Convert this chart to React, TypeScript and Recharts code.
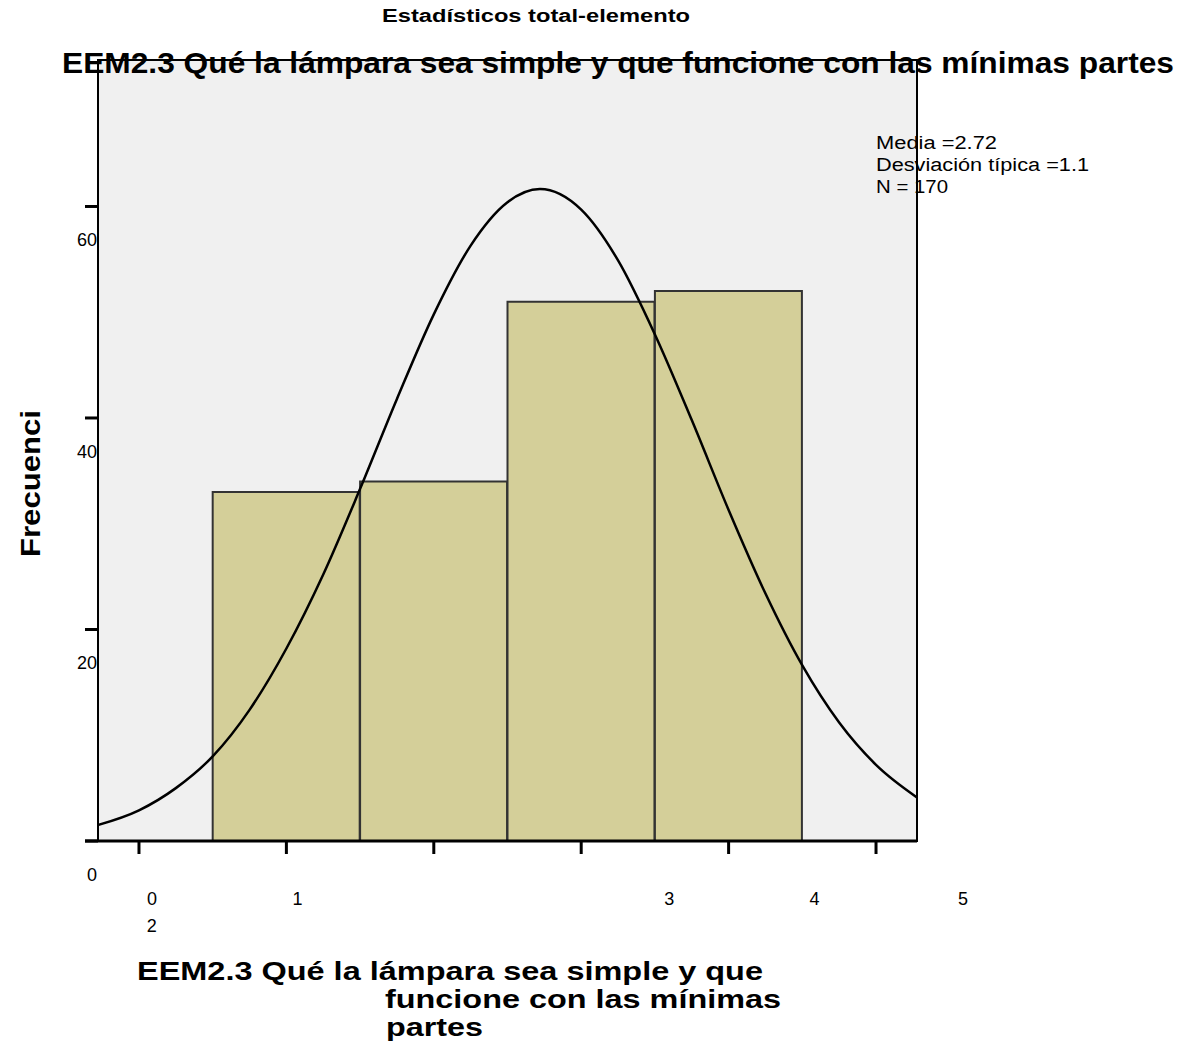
import React from "react";
import {
  ComposedChart,
  Bar,
  Line,
  XAxis,
  YAxis,
  CartesianGrid,
  ReferenceArea,
} from "recharts";

// histogram bins (category value) and their frequencies
const binValues = [1, 2, 3, 4];
const binCounts = [33, 34, 51, 52];

// fitted normal curve
const curveX = [-0.28, 0, 0.25, 0.5, 0.75, 1, 1.25, 1.5, 1.75, 2, 2.25, 2.5, 2.72, 3, 3.25, 3.5, 3.75, 4, 4.25, 4.5, 4.75, 5, 5.28];
const curveY = [1.5, 2.9, 5.0, 8.0, 12.4, 18.2, 25.2, 33.3, 41.8, 49.8, 56.3, 60.4, 61.65, 59.7, 54.9, 47.9, 39.8, 31.3, 23.4, 16.6, 11.2, 7.2, 4.1];

const xTicks = [0, 1, 2, 3, 4, 5];
const yTicks = [0, 20, 40, 60];

const legendLines = ["Media =2.72", "Desviación típica =1.1", "N = 170"];
const xTitleLines = ["EEM2.3 Qué la lámpara sea simple y que", "funcione con las mínimas", "partes"];

const W = 1183;
const H = 1047;
const sans = "'Liberation Sans', Arial, sans-serif";
const xDomain: [number, number] = [-0.278, 5.278];

const barData = binValues.map((v, i) => ({ x: v, count: binCounts[i] }));
const curveData = curveX.map((x, i) => ({ x, curve: curveY[i] }));

// the original export scattered the x labels; keep them where they landed
const xLabelShift: Record<number, [number, number]> = {
  0: [13, 58],
  1: [11, 58],
  2: [-282, 85],
  3: [88, 58],
  4: [86, 58],
  5: [87, 58],
};

const XTick = (props: any) => {
  const { payload } = props;
  const cx = payload.coordinate;
  const [dx, dy] = xLabelShift[payload.value] || [0, 58];
  return (
    <text x={cx + dx} y={841 + dy + 6} textAnchor="middle" fontSize={18} fontFamily={sans} fill="#000">
      {payload.value}
    </text>
  );
};

const YTick = (props: any) => {
  const { payload, y } = props;
  return (
    <text x={97} y={y + 34 + 6} textAnchor="end" fontSize={18} fontFamily={sans} fill="#000">
      {payload.value}
    </text>
  );
};

const App = () => {
  return (
    <div style={{ position: "absolute", left: 0, top: 0, width: W, height: H, background: "#fff" }}>
      <ComposedChart
        width={W}
        height={H}
        data={barData}
        margin={{ top: 60, right: 266, left: 58, bottom: 176 }}
        barCategoryGap={0}
        barGap={0}
      >
        <CartesianGrid fill="#f0f0f0" horizontal={false} vertical={false} />
        <XAxis
          dataKey="x"
          type="number"
          domain={xDomain}
          ticks={xTicks}
          allowDataOverflow
          height={30}
          axisLine={false}
          tickLine={{ stroke: "#000", strokeWidth: 3 }}
          tickSize={13}
          tick={<XTick />}
          interval={0}
        />
        <XAxis
          xAxisId="curve"
          dataKey="x"
          type="number"
          domain={xDomain}
          allowDataOverflow
          hide
        />
        <YAxis
          type="number"
          domain={[0, 73.85]}
          ticks={yTicks}
          allowDataOverflow
          width={40}
          axisLine={false}
          tickLine={{ stroke: "#000", strokeWidth: 3 }}
          tickSize={13}
          tick={<YTick />}
          interval={0}
        />
        <Bar
          dataKey="count"
          fill="#d4cf99"
          stroke="#333"
          strokeWidth={2}
          isAnimationActive={false}
        />
        <ReferenceArea
          x1={xDomain[0]}
          x2={xDomain[1]}
          y1={0}
          y2={73.85}
          fill="none"
          stroke="#000"
          strokeWidth={2}
          ifOverflow="visible"
        />
        <Line
          xAxisId="curve"
          data={curveData}
          dataKey="curve"
          type="monotone"
          stroke="#000"
          strokeWidth={2.5}
          dot={false}
          activeDot={false}
          isAnimationActive={false}
        />
      </ComposedChart>
      <svg width={W} height={H} style={{ position: "absolute", left: 0, top: 0, pointerEvents: "none" }}>
        <line x1={85} y1={841} x2={917} y2={841} stroke="#000" strokeWidth={3} />
        <text x={382} y={22} fontSize={18} fontWeight="bold" fontFamily={sans} textLength={308} lengthAdjust="spacingAndGlyphs">
          Estadísticos total-elemento
        </text>
        <text x={62} y={73} fontSize={30} fontWeight="bold" fontFamily={sans} textLength={1112} lengthAdjust="spacingAndGlyphs">
          EEM2.3 Qué la lámpara sea simple y que funcione con las mínimas partes
        </text>
        {legendLines.map((t, i) => (
          <text
            key={t}
            x={876}
            y={149 + i * 22}
            fontSize={18}
            fontFamily={sans}
            textLength={[121, 213, 72][i]}
            lengthAdjust="spacingAndGlyphs"
          >
            {t}
          </text>
        ))}
        <text
          x={0}
          y={0}
          transform="translate(40,557) rotate(-90)"
          fontSize={28}
          fontWeight="bold"
          fontFamily={sans}
          textLength={147}
          lengthAdjust="spacingAndGlyphs"
        >
          Frecuenci
        </text>
        {xTitleLines.map((t, i) => (
          <text
            key={t}
            x={[137, 385, 386][i]}
            y={980 + i * 28}
            fontSize={26}
            fontWeight="bold"
            fontFamily={sans}
            textLength={[626, 396, 97][i]}
            lengthAdjust="spacingAndGlyphs"
          >
            {t}
          </text>
        ))}
      </svg>
    </div>
  );
};

export default App;
